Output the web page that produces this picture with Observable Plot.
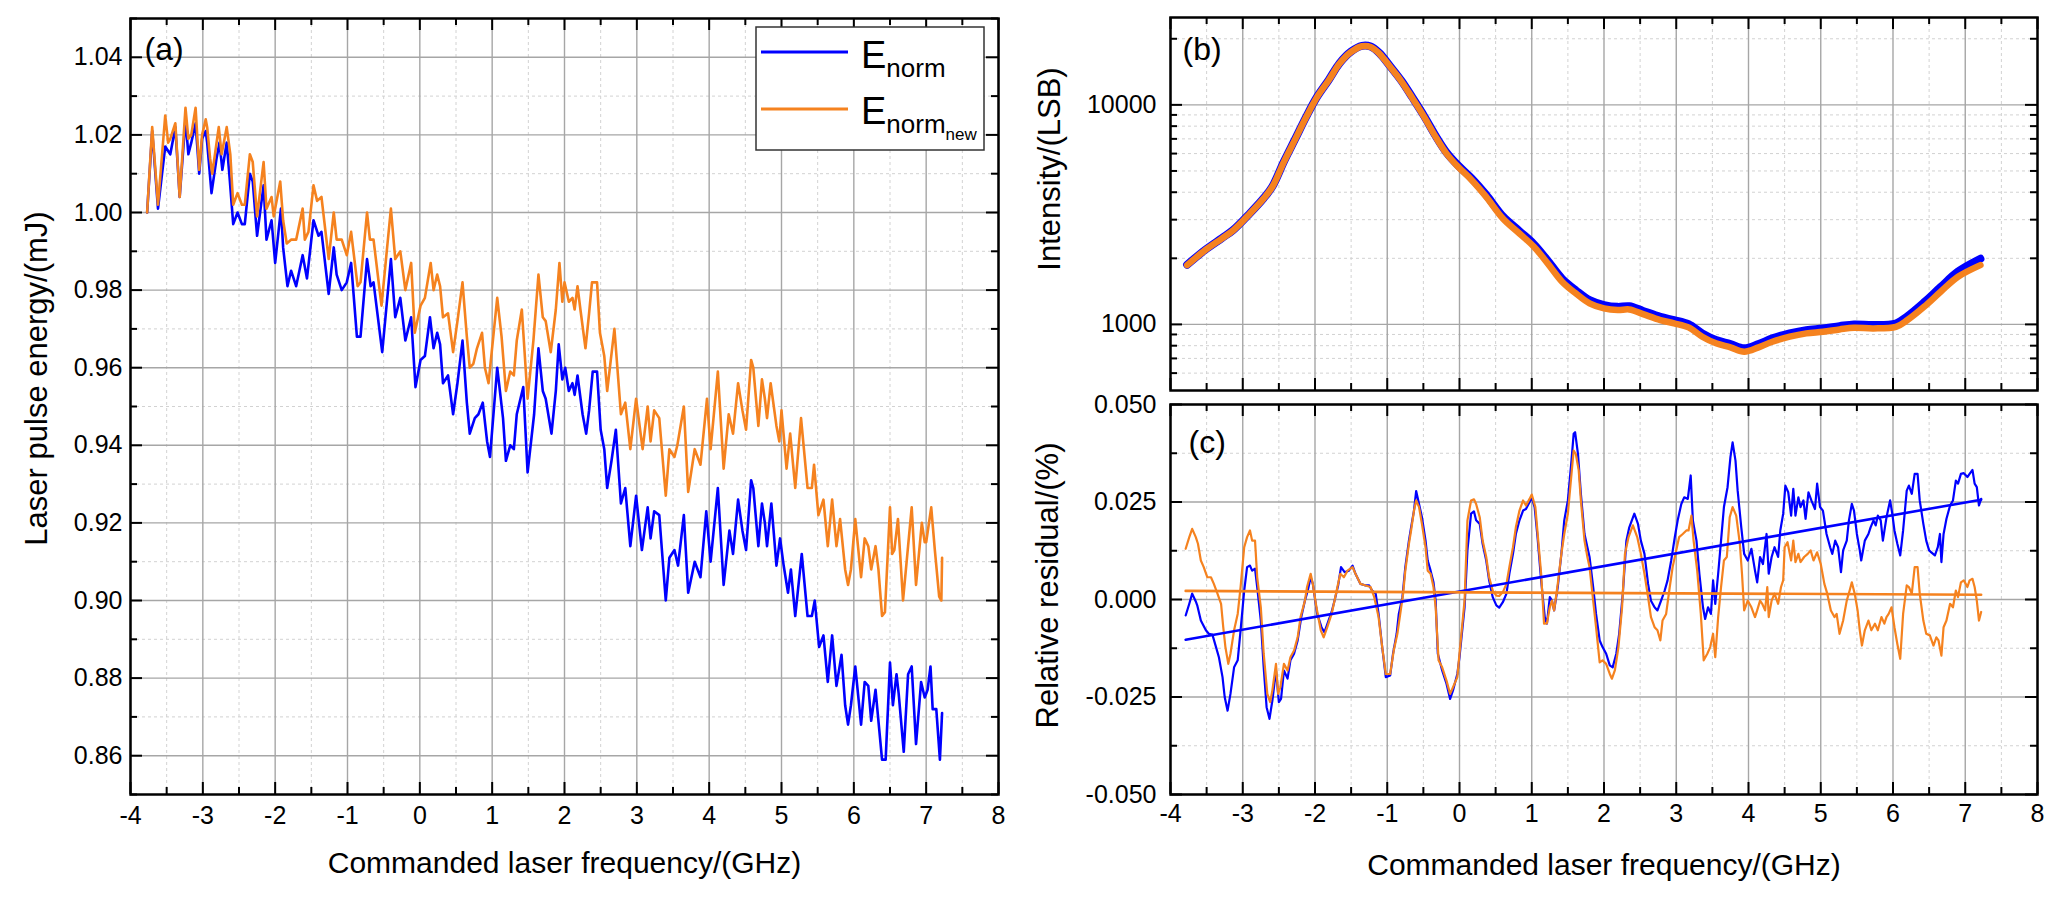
<!DOCTYPE html>
<html>
<head>
<meta charset="utf-8">
<script src="https://cdn.jsdelivr.net/npm/d3@7"></script>
<script src="https://cdn.jsdelivr.net/npm/@observablehq/plot@0.6"></script>
<style>
  body { margin: 0; background: #fff; }
  #wrap { position: relative; width: 2067px; height: 902px; background: #fff; }
  #a, #b, #c { position: absolute; }
  #a { left: 0; top: 0; }
  #b { left: 1012px; top: 0; }
  #c { left: 1012px; top: 374px; }
</style>
</head>
<body>
<div id="wrap"><div id="a"></div><div id="b"></div><div id="c"></div></div>
<script>
// ---- (a) laser pulse energy, E_norm (blue) and E_norm_new (orange)
const aNormX = [-3.77,-3.70,-3.62,-3.52,-3.45,-3.38,-3.32,-3.24,-3.20,-3.16,-3.10,-3.05,-3.01,-2.96,-2.94,-2.88,-2.81,-2.77,-2.73,-2.67,-2.63,-2.58,-2.52,-2.46,-2.42,-2.35,-2.31,-2.25,-2.16,-2.12,-2.05,-2.00,-1.92,-1.89,-1.83,-1.78,-1.71,-1.62,-1.56,-1.47,-1.40,-1.36,-1.26,-1.19,-1.15,-1.08,-1.01,-0.95,-0.87,-0.82,-0.73,-0.68,-0.64,-0.52,-0.40,-0.34,-0.27,-0.20,-0.12,-0.06,0.01,0.07,0.14,0.19,0.24,0.28,0.32,0.39,0.46,0.52,0.59,0.65,0.69,0.76,0.81,0.87,0.93,0.97,1.07,1.15,1.19,1.25,1.30,1.34,1.43,1.49,1.58,1.64,1.70,1.74,1.82,1.88,1.92,1.97,2.01,2.06,2.11,2.14,2.18,2.25,2.30,2.34,2.39,2.45,2.50,2.55,2.59,2.65,2.71,2.78,2.84,2.91,2.99,3.07,3.15,3.19,3.24,3.31,3.40,3.45,3.52,3.57,3.65,3.71,3.80,3.88,3.96,4.02,4.12,4.20,4.28,4.33,4.40,4.46,4.51,4.58,4.61,4.68,4.73,4.77,4.80,4.86,4.93,4.98,5.03,5.09,5.13,5.19,5.28,5.36,5.42,5.46,5.52,5.58,5.64,5.70,5.76,5.83,5.88,5.92,5.96,6.02,6.10,6.15,6.20,6.24,6.30,6.34,6.39,6.44,6.50,6.54,6.59,6.62,6.69,6.75,6.80,6.86,6.93,6.98,7.02,7.06,7.09,7.14,7.19,7.22];
const aNormY = [1.000,1.021,1.001,1.017,1.015,1.022,1.004,1.024,1.015,1.018,1.023,1.010,1.019,1.021,1.018,1.005,1.014,1.018,1.011,1.018,1.009,0.997,1.000,0.997,0.997,1.010,1.008,0.994,1.007,0.993,0.998,0.987,1.001,0.991,0.981,0.985,0.981,0.989,0.983,0.998,0.994,0.995,0.979,0.991,0.984,0.980,0.982,0.987,0.968,0.968,0.988,0.981,0.982,0.964,0.988,0.973,0.978,0.967,0.973,0.955,0.962,0.963,0.973,0.965,0.969,0.966,0.956,0.958,0.948,0.956,0.967,0.951,0.943,0.947,0.948,0.951,0.941,0.937,0.960,0.947,0.936,0.940,0.939,0.948,0.955,0.933,0.948,0.965,0.954,0.952,0.943,0.954,0.966,0.957,0.960,0.954,0.956,0.953,0.958,0.948,0.943,0.949,0.959,0.959,0.944,0.939,0.929,0.936,0.944,0.925,0.929,0.914,0.927,0.913,0.924,0.916,0.923,0.922,0.900,0.911,0.913,0.909,0.922,0.902,0.910,0.906,0.923,0.910,0.929,0.904,0.918,0.912,0.926,0.918,0.913,0.931,0.929,0.914,0.925,0.920,0.914,0.925,0.909,0.916,0.909,0.902,0.908,0.896,0.912,0.896,0.896,0.900,0.888,0.891,0.879,0.891,0.878,0.886,0.873,0.868,0.873,0.883,0.868,0.879,0.878,0.869,0.877,0.869,0.859,0.859,0.884,0.873,0.881,0.876,0.861,0.881,0.883,0.863,0.879,0.875,0.877,0.883,0.872,0.872,0.859,0.871];
const aNewX = [-3.77,-3.70,-3.62,-3.52,-3.48,-3.45,-3.38,-3.32,-3.24,-3.20,-3.16,-3.10,-3.05,-3.01,-2.96,-2.94,-2.90,-2.87,-2.78,-2.74,-2.67,-2.62,-2.58,-2.52,-2.46,-2.42,-2.35,-2.31,-2.25,-2.16,-2.12,-2.05,-2.02,-1.93,-1.89,-1.84,-1.78,-1.71,-1.62,-1.59,-1.54,-1.47,-1.42,-1.36,-1.26,-1.19,-1.15,-1.08,-1.01,-0.95,-0.86,-0.82,-0.73,-0.69,-0.64,-0.53,-0.40,-0.34,-0.27,-0.20,-0.12,-0.07,0.01,0.07,0.15,0.19,0.24,0.28,0.32,0.39,0.46,0.52,0.59,0.65,0.69,0.74,0.79,0.86,0.90,0.95,1.07,1.13,1.19,1.25,1.30,1.34,1.41,1.49,1.57,1.64,1.70,1.74,1.81,1.88,1.93,1.97,2.00,2.06,2.11,2.14,2.18,2.22,2.29,2.34,2.38,2.45,2.49,2.55,2.59,2.69,2.78,2.84,2.91,2.99,3.08,3.15,3.19,3.24,3.31,3.40,3.45,3.52,3.56,3.65,3.71,3.80,3.88,3.97,4.02,4.12,4.20,4.27,4.33,4.40,4.46,4.51,4.58,4.61,4.68,4.73,4.77,4.80,4.85,4.93,4.97,5.00,5.07,5.12,5.19,5.27,5.36,5.42,5.45,5.51,5.58,5.64,5.70,5.76,5.81,5.88,5.92,5.96,6.02,6.10,6.15,6.20,6.24,6.30,6.34,6.39,6.43,6.50,6.53,6.56,6.61,6.68,6.75,6.80,6.86,6.94,6.98,7.00,7.07,7.12,7.18,7.21,7.22];
const aNewY = [1.000,1.022,1.002,1.025,1.018,1.019,1.023,1.004,1.027,1.019,1.020,1.027,1.011,1.020,1.024,1.022,1.014,1.010,1.022,1.015,1.022,1.015,1.002,1.005,1.002,1.002,1.015,1.013,0.999,1.013,1.001,1.004,0.999,1.008,0.998,0.992,0.993,0.993,1.001,0.993,0.995,1.007,1.003,1.004,0.988,1.000,0.993,0.993,0.989,0.995,0.981,0.982,1.000,0.993,0.993,0.976,1.001,0.988,0.990,0.980,0.987,0.969,0.976,0.978,0.987,0.980,0.984,0.981,0.973,0.974,0.964,0.972,0.982,0.968,0.960,0.961,0.965,0.969,0.960,0.956,0.978,0.968,0.954,0.959,0.958,0.967,0.975,0.952,0.967,0.984,0.973,0.972,0.964,0.975,0.987,0.977,0.982,0.977,0.978,0.975,0.981,0.975,0.965,0.974,0.982,0.982,0.969,0.963,0.954,0.970,0.948,0.951,0.939,0.952,0.939,0.950,0.941,0.949,0.947,0.927,0.939,0.937,0.940,0.950,0.928,0.939,0.935,0.952,0.939,0.959,0.934,0.948,0.943,0.956,0.949,0.944,0.962,0.960,0.945,0.957,0.952,0.947,0.956,0.945,0.941,0.949,0.934,0.943,0.929,0.947,0.929,0.929,0.935,0.922,0.926,0.914,0.926,0.914,0.921,0.908,0.904,0.908,0.921,0.906,0.916,0.914,0.908,0.914,0.908,0.896,0.897,0.924,0.912,0.913,0.921,0.900,0.914,0.924,0.904,0.920,0.915,0.915,0.924,0.913,0.901,0.900,0.911];

// ---- (b) intensity, log scale
const bX = [-3.77,-3.52,-3.29,-3.13,-2.90,-2.71,-2.59,-2.43,-2.28,-2.12,-1.97,-1.81,-1.66,-1.50,-1.35,-1.23,-1.11,-0.96,-0.80,-0.65,-0.49,-0.33,-0.18,-0.02,0.17,0.37,0.60,0.83,1.03,1.22,1.42,1.61,1.80,2.00,2.19,2.35,2.54,2.78,2.97,3.17,3.36,3.55,3.75,3.94,4.14,4.33,4.57,4.80,5.03,5.26,5.46,5.73,6.04,6.20,6.43,6.66,6.90,7.21];
const bNorm = [1870,2185,2470,2695,3210,3760,4250,5520,6930,8850,10900,12990,15480,17500,18570,18440,17230,15000,12830,10780,8900,7220,6070,5300,4620,3890,3110,2660,2320,1955,1615,1430,1290,1225,1202,1210,1152,1083,1046,1003,910,849,814,778,814,864,910,942,958,982,1000,993,1010,1090,1260,1480,1740,1990];
const bNew = [1862,2178,2460,2685,3199,3748,4236,5504,6906,8818,10870,12940,15420,17420,18490,18360,17130,14900,12740,10690,8818,7145,5998,5222,4540,3812,3038,2594,2259,1897,1565,1384,1247,1183,1162,1170,1114,1047,1011,969,879,820,786,751,786,834,879,910,926,949,966,959,975,1047,1203,1409,1648,1862];

// ---- (c) relative residual
const cNormX = [-3.79,-3.74,-3.70,-3.65,-3.63,-3.58,-3.51,-3.47,-3.42,-3.37,-3.33,-3.28,-3.25,-3.21,-3.17,-3.12,-3.07,-3.03,-2.98,-2.94,-2.90,-2.87,-2.83,-2.80,-2.75,-2.71,-2.67,-2.63,-2.59,-2.54,-2.50,-2.47,-2.43,-2.38,-2.34,-2.29,-2.24,-2.19,-2.14,-2.10,-2.06,-2.03,-1.97,-1.91,-1.87,-1.82,-1.77,-1.73,-1.68,-1.64,-1.59,-1.53,-1.48,-1.44,-1.37,-1.30,-1.25,-1.21,-1.16,-1.12,-1.07,-1.02,-0.96,-0.92,-0.87,-0.84,-0.79,-0.75,-0.70,-0.67,-0.63,-0.60,-0.56,-0.52,-0.47,-0.44,-0.40,-0.36,-0.33,-0.30,-0.24,-0.18,-0.13,-0.09,-0.03,0.00,0.07,0.11,0.16,0.20,0.23,0.28,0.32,0.37,0.41,0.46,0.51,0.55,0.60,0.65,0.69,0.74,0.78,0.83,0.88,0.92,0.97,1.00,1.04,1.08,1.13,1.18,1.21,1.25,1.28,1.31,1.36,1.41,1.45,1.50,1.55,1.58,1.60,1.64,1.68,1.73,1.77,1.80,1.85,1.89,1.94,1.98,2.03,2.08,2.12,2.17,2.21,2.26,2.31,2.35,2.42,2.47,2.51,2.56,2.61,2.65,2.70,2.74,2.79,2.84,2.88,2.93,2.98,3.02,3.07,3.11,3.16,3.20,3.23,3.28,3.32,3.37,3.40,3.44,3.48,3.51,3.54,3.58,3.62,3.66,3.71,3.75,3.78,3.82,3.85,3.90,3.94,3.99,4.04,4.09,4.12,4.16,4.20,4.25,4.28,4.32,4.36,4.41,4.44,4.48,4.51,4.55,4.59,4.62,4.65,4.69,4.72,4.76,4.79,4.83,4.87,4.92,4.95,4.99,5.03,5.08,5.13,5.16,5.20,5.24,5.28,5.31,5.36,5.39,5.43,5.46,5.50,5.54,5.56,5.61,5.66,5.69,5.73,5.76,5.79,5.83,5.86,5.91,5.96,5.99,6.02,6.06,6.10,6.14,6.19,6.22,6.26,6.30,6.34,6.37,6.42,6.46,6.50,6.53,6.58,6.62,6.65,6.67,6.70,6.74,6.79,6.83,6.87,6.90,6.94,6.98,7.03,7.06,7.10,7.13,7.16,7.19,7.22];
const cNormY = [-0.0041,-0.0011,0.0015,-0.0005,-0.0015,-0.0054,-0.0079,-0.0088,-0.0090,-0.0122,-0.0148,-0.0199,-0.0250,-0.0285,-0.0242,-0.0174,-0.0156,-0.0079,0.0023,0.0083,0.0087,0.0074,0.0079,0.0032,-0.0054,-0.0174,-0.0276,-0.0306,-0.0259,-0.0182,-0.0263,-0.0255,-0.0182,-0.0203,-0.0156,-0.0139,-0.0105,-0.0045,-0.0003,0.0023,0.0057,0.0040,-0.0037,-0.0071,-0.0084,-0.0058,-0.0032,-0.0003,0.0036,0.0083,0.0070,0.0074,0.0087,0.0066,0.0040,0.0036,0.0036,0.0023,0.0015,-0.0037,-0.0122,-0.0199,-0.0195,-0.0139,-0.0088,-0.0037,0.0006,0.0083,0.0151,0.0185,0.0228,0.0278,0.0245,0.0211,0.0151,0.0100,0.0074,0.0044,-0.0003,-0.0139,-0.0182,-0.0216,-0.0255,-0.0233,-0.0191,-0.0148,-0.0020,0.0126,0.0220,0.0226,0.0203,0.0194,0.0143,0.0100,0.0049,0.0006,-0.0015,-0.0021,-0.0007,0.0015,0.0066,0.0117,0.0168,0.0203,0.0228,0.0232,0.0250,0.0262,0.0237,0.0160,0.0049,-0.0045,-0.0062,0.0006,-0.0003,-0.0028,0.0032,0.0117,0.0203,0.0254,0.0356,0.0425,0.0429,0.0373,0.0271,0.0168,0.0134,0.0109,0.0032,-0.0037,-0.0105,-0.0122,-0.0139,-0.0169,-0.0174,-0.0139,-0.0088,0.0015,0.0151,0.0185,0.0220,0.0194,0.0151,0.0117,0.0040,-0.0003,-0.0020,-0.0028,-0.0003,0.0023,0.0049,0.0100,0.0160,0.0203,0.0245,0.0262,0.0258,0.0318,0.0203,0.0151,0.0066,-0.0020,-0.0050,-0.0020,-0.0037,0.0049,-0.0011,0.0066,0.0151,0.0237,0.0288,0.0365,0.0403,0.0356,0.0279,0.0185,0.0117,0.0100,0.0130,0.0074,0.0044,0.0109,0.0091,0.0168,0.0066,0.0109,0.0134,0.0109,0.0177,0.0220,0.0292,0.0275,0.0215,0.0284,0.0215,0.0262,0.0237,0.0254,0.0207,0.0275,0.0254,0.0232,0.0297,0.0237,0.0228,0.0168,0.0134,0.0117,0.0151,0.0134,0.0070,0.0126,0.0151,0.0203,0.0245,0.0228,0.0168,0.0126,0.0100,0.0151,0.0168,0.0185,0.0203,0.0190,0.0215,0.0203,0.0151,0.0211,0.0254,0.0220,0.0177,0.0143,0.0113,0.0177,0.0279,0.0292,0.0271,0.0322,0.0322,0.0254,0.0194,0.0151,0.0126,0.0121,0.0113,0.0134,0.0168,0.0096,0.0168,0.0207,0.0241,0.0254,0.0305,0.0297,0.0322,0.0324,0.0314,0.0322,0.0332,0.0297,0.0288,0.0241,0.0258];
const cNewX = [-3.79,-3.74,-3.70,-3.65,-3.62,-3.58,-3.54,-3.49,-3.44,-3.40,-3.35,-3.30,-3.27,-3.24,-3.20,-3.17,-3.12,-3.07,-3.03,-2.98,-2.94,-2.90,-2.87,-2.83,-2.80,-2.75,-2.71,-2.66,-2.62,-2.59,-2.54,-2.51,-2.48,-2.43,-2.38,-2.34,-2.29,-2.24,-2.20,-2.14,-2.11,-2.06,-2.03,-1.98,-1.92,-1.88,-1.83,-1.77,-1.73,-1.69,-1.65,-1.60,-1.55,-1.48,-1.44,-1.37,-1.30,-1.23,-1.18,-1.12,-1.07,-1.02,-0.96,-0.91,-0.86,-0.82,-0.78,-0.75,-0.70,-0.67,-0.63,-0.60,-0.56,-0.52,-0.47,-0.44,-0.40,-0.36,-0.33,-0.29,-0.24,-0.18,-0.13,-0.09,-0.03,0.00,0.07,0.11,0.16,0.20,0.23,0.28,0.32,0.37,0.41,0.46,0.51,0.55,0.60,0.65,0.69,0.74,0.78,0.83,0.88,0.92,0.97,1.00,1.05,1.09,1.13,1.17,1.21,1.25,1.28,1.31,1.36,1.41,1.45,1.50,1.55,1.58,1.61,1.65,1.68,1.73,1.77,1.80,1.85,1.89,1.94,1.98,2.03,2.08,2.11,2.15,2.20,2.25,2.29,2.34,2.40,2.46,2.51,2.56,2.61,2.65,2.70,2.74,2.78,2.81,2.86,2.91,2.95,3.00,3.04,3.09,3.14,3.17,3.21,3.24,3.29,3.34,3.38,3.43,3.47,3.51,3.54,3.58,3.62,3.66,3.70,3.74,3.78,3.83,3.88,3.91,3.94,3.99,4.04,4.09,4.12,4.16,4.19,4.23,4.26,4.28,4.32,4.36,4.41,4.45,4.48,4.50,4.54,4.59,4.62,4.65,4.69,4.72,4.77,4.82,4.86,4.90,4.95,5.00,5.05,5.09,5.14,5.19,5.22,5.26,5.31,5.36,5.40,5.43,5.47,5.51,5.54,5.57,5.61,5.66,5.70,5.75,5.79,5.84,5.88,5.91,5.94,5.98,6.02,6.06,6.10,6.14,6.19,6.22,6.26,6.30,6.34,6.37,6.42,6.46,6.51,6.56,6.60,6.63,6.67,6.70,6.74,6.79,6.83,6.87,6.90,6.94,6.98,7.03,7.06,7.10,7.13,7.16,7.19,7.22];
const cNewY = [0.0130,0.0160,0.0181,0.0160,0.0143,0.0100,0.0083,0.0057,0.0057,0.0040,0.0015,-0.0011,-0.0071,-0.0122,-0.0165,-0.0139,-0.0079,-0.0037,0.0032,0.0134,0.0160,0.0177,0.0151,0.0151,0.0057,-0.0020,-0.0139,-0.0242,-0.0263,-0.0233,-0.0165,-0.0242,-0.0225,-0.0165,-0.0182,-0.0148,-0.0131,-0.0097,-0.0045,-0.0003,0.0032,0.0066,0.0040,-0.0020,-0.0079,-0.0097,-0.0071,-0.0037,-0.0003,0.0032,0.0066,0.0057,0.0074,0.0083,0.0066,0.0040,0.0036,0.0032,0.0006,-0.0045,-0.0122,-0.0191,-0.0191,-0.0131,-0.0088,-0.0037,0.0015,0.0074,0.0143,0.0177,0.0228,0.0254,0.0237,0.0194,0.0134,0.0074,0.0066,0.0032,-0.0020,-0.0156,-0.0174,-0.0208,-0.0242,-0.0225,-0.0199,-0.0139,-0.0003,0.0203,0.0254,0.0257,0.0245,0.0211,0.0151,0.0109,0.0057,0.0023,0.0010,0.0009,0.0019,0.0040,0.0083,0.0134,0.0185,0.0228,0.0254,0.0241,0.0258,0.0269,0.0237,0.0151,0.0066,-0.0062,-0.0061,-0.0020,-0.0003,-0.0028,0.0040,0.0117,0.0168,0.0220,0.0322,0.0382,0.0373,0.0331,0.0254,0.0151,0.0109,0.0083,-0.0003,-0.0071,-0.0161,-0.0156,-0.0165,-0.0191,-0.0203,-0.0182,-0.0122,-0.0020,0.0117,0.0160,0.0190,0.0160,0.0117,0.0066,0.0006,-0.0045,-0.0071,-0.0079,-0.0105,-0.0054,-0.0037,0.0032,0.0083,0.0126,0.0160,0.0168,0.0177,0.0177,0.0215,0.0151,0.0074,-0.0037,-0.0156,-0.0139,-0.0122,-0.0088,-0.0148,-0.0045,0.0032,0.0100,0.0109,0.0211,0.0237,0.0215,0.0143,0.0066,-0.0028,-0.0003,-0.0020,-0.0045,-0.0028,-0.0003,-0.0011,-0.0028,0.0032,-0.0045,-0.0003,0.0015,-0.0011,0.0032,0.0049,0.0134,0.0147,0.0100,0.0151,0.0096,0.0117,0.0096,0.0109,0.0117,0.0126,0.0100,0.0121,0.0091,0.0040,0.0015,-0.0028,-0.0045,-0.0037,-0.0088,-0.0054,-0.0003,0.0023,0.0044,0.0015,-0.0028,-0.0079,-0.0118,-0.0079,-0.0054,-0.0079,-0.0062,-0.0079,-0.0045,-0.0062,-0.0045,-0.0037,-0.0020,-0.0071,-0.0114,-0.0152,-0.0037,0.0036,0.0032,0.0015,0.0083,0.0083,0.0015,-0.0054,-0.0088,-0.0092,-0.0118,-0.0097,-0.0105,-0.0144,-0.0071,-0.0054,-0.0011,-0.0020,0.0023,0.0006,0.0044,0.0049,0.0032,0.0049,0.0053,0.0032,-0.0003,-0.0054,-0.0032];
// linear fits drawn in (c): end points
const fitX = [-3.79, 7.22];
const fitNorm = [-0.0103, 0.0256];
const fitNew = [0.0022, 0.0012];

// ---- ticks
const xMajor = [-4,-3,-2,-1,0,1,2,3,4,5,6,7,8];
const xMinor = [-3.5,-2.5,-1.5,-0.5,0.5,1.5,2.5,3.5,4.5,5.5,6.5,7.5];
const aYMajor = [0.86,0.88,0.90,0.92,0.94,0.96,0.98,1.00,1.02,1.04];
const aYMinor = [0.85,0.87,0.89,0.91,0.93,0.95,0.97,0.99,1.01,1.03,1.05];
const bYMajor = [1000,10000];
const bYMinor = [600,700,800,900,2000,3000,4000,5000,6000,7000,8000,9000,20000];
const cYMajor = [-0.05,-0.025,0,0.025,0.05];
const cYMinor = [-0.0375,-0.0125,0.0125,0.0375];

const blue = "#0000ff";
const orange = "#f5821f";
const font = "Liberation Sans, Arial, sans-serif";

const pts = (xs, ys) => xs.map((x, i) => ({x, y: ys[i]}));

// grid + inward ticks on all four sides, w/h = inner plot size
function furniture(yMajor, yMinor, w, h) {
  const major = {stroke: "#a6a6a6", strokeWidth: 1.4};
  const minor = {stroke: "#d2d2d2", strokeWidth: 1, strokeDasharray: "3,3"};
  const tk = {stroke: "black", strokeWidth: 2};
  return [
    Plot.ruleX(xMinor, {x: d => d, ...minor}),
    Plot.ruleY(yMinor, {y: d => d, ...minor}),
    Plot.ruleX(xMajor, {x: d => d, ...major}),
    Plot.ruleY(yMajor, {y: d => d, ...major}),
    Plot.ruleX(xMajor, {x: d => d, insetTop: h - 12, ...tk}),
    Plot.ruleX(xMajor, {x: d => d, insetBottom: h - 12, ...tk}),
    Plot.ruleX(xMinor, {x: d => d, insetTop: h - 7, ...tk}),
    Plot.ruleX(xMinor, {x: d => d, insetBottom: h - 7, ...tk}),
    Plot.ruleY(yMajor, {y: d => d, insetRight: w - 12, ...tk}),
    Plot.ruleY(yMajor, {y: d => d, insetLeft: w - 12, ...tk}),
    Plot.ruleY(yMinor, {y: d => d, insetRight: w - 7, ...tk}),
    Plot.ruleY(yMinor, {y: d => d, insetLeft: w - 7, ...tk})
  ];
}

const xTitle = "Commanded laser frequency/(GHz)";

// ---------- panel (a)
const chartA = Plot.plot({
  width: 1010, height: 902,
  marginLeft: 130, marginRight: 12, marginTop: 18, marginBottom: 108,
  style: {fontFamily: font, fontSize: "25px", color: "black", background: "white"},
  x: {domain: [-4, 8]},
  y: {domain: [0.85, 1.05]},
  marks: [
    ...furniture(aYMajor, aYMinor, 868, 776),
    Plot.line(pts(aNormX, aNormY), {x: "x", y: "y", stroke: blue, strokeWidth: 2.6}),
    Plot.line(pts(aNewX, aNewY), {x: "x", y: "y", stroke: orange, strokeWidth: 2.6}),
    Plot.axisX({ticks: xMajor, tickSize: 0, tickPadding: 12, tickFormat: d => `${d}`, fontSize: 25, label: null}),
    Plot.axisY({ticks: aYMajor, tickSize: 0, tickPadding: 8, tickFormat: d => d.toFixed(2), fontSize: 25, label: null}),
    Plot.text([xTitle], {text: d => d, frameAnchor: "bottom", dy: 69, lineAnchor: "middle", fontSize: 30}),
    Plot.text(["Laser pulse energy/(mJ)"], {text: d => d, frameAnchor: "left", dx: -93, dy: -28, rotate: -90, textAnchor: "middle", lineAnchor: "middle", fontSize: 31}),
    Plot.text(["(a)"], {text: d => d, frameAnchor: "top-left", dx: 14, dy: 19, lineAnchor: "top", fontSize: 32}),
    Plot.frame({stroke: "black", strokeWidth: 2.5})
  ]
});
d3.select("#a").append(() => chartA);

// legend box, drawn on top of panel (a)
const lg = d3.select(chartA).append("g")
  .attr("font-family", font).attr("fill", "black").attr("text-anchor", "start");
lg.append("rect").attr("x", 756).attr("y", 27).attr("width", 228).attr("height", 123)
  .attr("fill", "white").attr("stroke", "#333").attr("stroke-width", 1.5);
lg.append("line").attr("x1", 761).attr("x2", 848).attr("y1", 52).attr("y2", 52)
  .attr("stroke", blue).attr("stroke-width", 3);
lg.append("line").attr("x1", 761).attr("x2", 848).attr("y1", 109).attr("y2", 109)
  .attr("stroke", orange).attr("stroke-width", 3);
const t1 = lg.append("text").attr("x", 861).attr("y", 68).attr("font-size", 38).text("E");
t1.append("tspan").attr("font-size", 26).attr("dy", 9).text("norm");
const t2 = lg.append("text").attr("x", 861).attr("y", 124).attr("font-size", 38).text("E");
t2.append("tspan").attr("font-size", 26).attr("dy", 9).text("norm");
t2.append("tspan").attr("font-size", 17).attr("dy", 7).text("new");

// ---------- panel (b)
const bData = bX.map((x, i) => ({x, norm: bNorm[i], fresh: bNew[i]}));
const chartB = Plot.plot({
  width: 1055, height: 400,
  marginLeft: 158, marginRight: 30, marginTop: 17, marginBottom: 10,
  style: {fontFamily: font, fontSize: "25px", color: "black", background: "transparent"},
  x: {domain: [-4, 8], axis: null},
  y: {type: "log", domain: [500, 25000]},
  marks: [
    ...furniture(bYMajor, bYMinor, 867, 373),
    Plot.line(bData, {x: "x", y: "norm", stroke: blue, strokeWidth: 8, curve: "catmull-rom"}),
    Plot.line(bData, {x: "x", y: "fresh", stroke: orange, strokeWidth: 6.5, curve: "catmull-rom"}),
    Plot.axisY({ticks: bYMajor, tickSize: 0, tickPadding: 14, tickFormat: d => `${d}`, fontSize: 25, label: null}),
    Plot.text(["Intensity/(LSB)"], {text: d => d, frameAnchor: "left", dx: -120, dy: -35, rotate: -90, textAnchor: "middle", lineAnchor: "middle", fontSize: 31}),
    Plot.text(["(b)"], {text: d => d, frameAnchor: "top-left", dx: 12, dy: 20, lineAnchor: "top", fontSize: 32}),
    Plot.frame({stroke: "black", strokeWidth: 2.5})
  ]
});
d3.select("#b").append(() => chartB);

// ---------- panel (c)
const chartC = Plot.plot({
  width: 1055, height: 528,
  marginLeft: 158, marginRight: 30, marginTop: 30, marginBottom: 108,
  style: {fontFamily: font, fontSize: "25px", color: "black", background: "transparent"},
  x: {domain: [-4, 8]},
  y: {domain: [-0.05, 0.05]},
  marks: [
    ...furniture(cYMajor, cYMinor, 867, 390),
    Plot.line(pts(cNormX, cNormY), {x: "x", y: "y", stroke: blue, strokeWidth: 2.2}),
    Plot.line(pts(cNewX, cNewY), {x: "x", y: "y", stroke: orange, strokeWidth: 2.2}),
    Plot.line(pts(fitX, fitNorm), {x: "x", y: "y", stroke: blue, strokeWidth: 2.6}),
    Plot.line(pts(fitX, fitNew), {x: "x", y: "y", stroke: orange, strokeWidth: 2.6}),
    Plot.axisX({ticks: xMajor, tickSize: 0, tickPadding: 10, tickFormat: d => `${d}`, fontSize: 25, label: null}),
    Plot.axisY({ticks: cYMajor, tickSize: 0, tickPadding: 14, tickFormat: d => d.toFixed(3), fontSize: 25, label: null}),
    Plot.text([xTitle], {text: d => d, frameAnchor: "bottom", dy: 71, lineAnchor: "middle", fontSize: 30}),
    Plot.text(["Relative residual/(%)"], {text: d => d, frameAnchor: "left", dx: -122, dy: -14, rotate: -90, textAnchor: "middle", lineAnchor: "middle", fontSize: 31}),
    Plot.text(["(c)"], {text: d => d, frameAnchor: "top-left", dx: 18, dy: 26, lineAnchor: "top", fontSize: 32}),
    Plot.frame({stroke: "black", strokeWidth: 2.5})
  ]
});
d3.select("#c").append(() => chartC);
</script>
</body>
</html>
